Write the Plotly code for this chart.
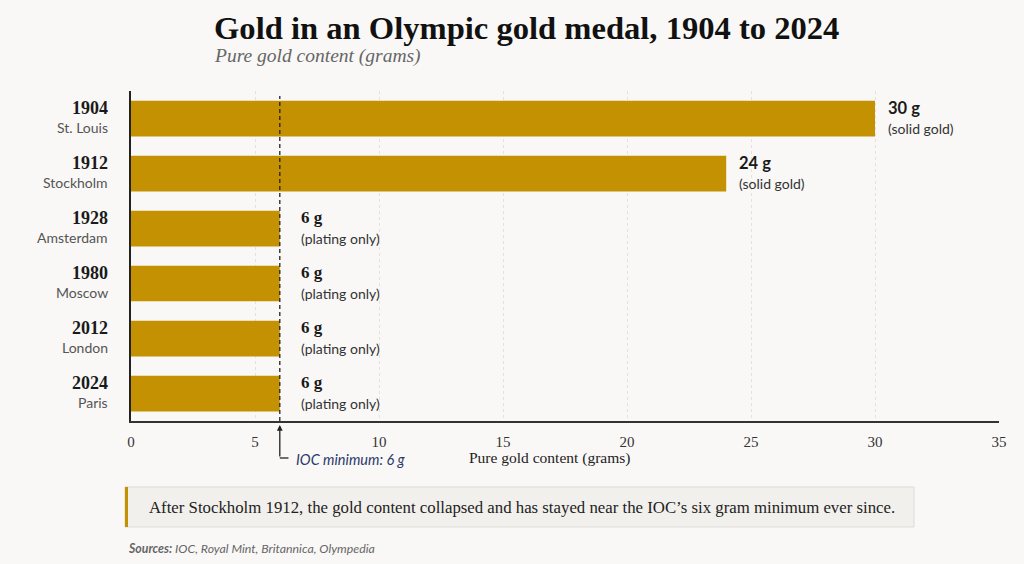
import plotly.graph_objects as go

years = ["1904", "1912", "1928", "1980", "2012", "2024"]
cities = ["St. Louis", "Stockholm", "Amsterdam", "Moscow", "London", "Paris"]
gold_grams = [30, 24, 6, 6, 6, 6]
value_labels = ["30 g", "24 g", "6 g", "6 g", "6 g", "6 g"]
notes = ["(solid gold)", "(solid gold)", "(plating only)", "(plating only)", "(plating only)", "(plating only)"]
x_ticks = [0, 5, 10, 15, 20, 25, 30, 35]
ioc_minimum = 6

W, H = 1024, 564
L, R, T, B = 131, 25, 91, 143
PW, PH = W - L - R, H - T - B

def px(x):
    return (x - L) / PW

def py(y):
    return (H - B - y) / PH

BG = "#f9f8f6"
GOLD = "#c49102"
SERIF = "Liberation Serif, DejaVu Serif, serif"
SANS = "Lato, Open Sans, sans-serif"

rows = list(range(len(years)))

fig = go.Figure()
fig.add_trace(go.Bar(
    y=rows, x=gold_grams, orientation="h",
    marker=dict(color=GOLD, line=dict(width=0)),
    width=0.65, hoverinfo="skip",
))

ann = []
# category labels
for r, yr, city in zip(rows, years, cities):
    ann.append(dict(x=px(110), y=r, xref="paper", yref="y", xanchor="right", yanchor="middle",
                    yshift=11, text=f"<b>{yr}</b>", showarrow=False,
                    font=dict(family=SERIF, size=18, color="#1a1a1a")))
    ann.append(dict(x=px(110), y=r, xref="paper", yref="y", xanchor="right", yanchor="middle",
                    yshift=-9, text=city, showarrow=False,
                    font=dict(family=SANS, size=14, color="#555")))

# value labels
for r, v, lab, note in zip(rows, gold_grams, value_labels, notes):
    solid = v > ioc_minimum
    shift = 11 if solid else 19
    ann.append(dict(x=v, y=r, xref="x", yref="y", xanchor="left", yanchor="middle",
                    xshift=shift, yshift=11, text=f"<b>{lab}</b>", showarrow=False,
                    font=dict(family=SANS if solid else SERIF, size=16.5 if solid else 17, color="#1a1a1a")))
    ann.append(dict(x=v, y=r, xref="x", yref="y", xanchor="left", yanchor="middle",
                    xshift=shift, yshift=-10, text=note, showarrow=False,
                    font=dict(family=SANS, size=14, color="#333")))

# title & subtitle
ann.append(dict(x=px(212), y=py(28), xref="paper", yref="paper", xanchor="left", yanchor="middle",
                text="<b>Gold in an Olympic gold medal, 1904 to 2024</b>", showarrow=False,
                font=dict(family=SERIF, size=32.6, color="#111")))
ann.append(dict(x=px(212), y=py(56), xref="paper", yref="paper", xanchor="left", yanchor="middle",
                text="<i>Pure gold content (grams)</i>", showarrow=False,
                font=dict(family=SERIF, size=19.5, color="#666")))

# axis title
ann.append(dict(x=px(549), y=py(458), xref="paper", yref="paper", xanchor="center", yanchor="middle",
                text="Pure gold content (grams)", showarrow=False,
                font=dict(family=SERIF, size=15.5, color="#222")))

# IOC arrow and label
ann.append(dict(x=ioc_minimum, y=py(425), xref="x", yref="paper", ax=0, ay=33, axref="pixel", ayref="pixel",
                text="", showarrow=True, arrowhead=2, arrowsize=0.9, arrowwidth=1.3, arrowcolor="#222"))
ann.append(dict(x=ioc_minimum, y=py(459), xref="x", yref="paper", xanchor="left", yanchor="middle",
                xshift=14, text="<i>IOC minimum: 6 g</i>", showarrow=False,
                font=dict(family=SANS, size=14.5, color="#2b3a6b")))

# insight box text
ann.append(dict(x=px(147), y=py(507), xref="paper", yref="paper", xanchor="left", yanchor="middle",
                text="After Stockholm 1912, the gold content collapsed and has stayed near the IOC\u2019s six gram minimum ever since.",
                showarrow=False, font=dict(family=SERIF, size=16.8, color="#222")))

# sources
ann.append(dict(x=px(126), y=py(548), xref="paper", yref="paper", xanchor="left", yanchor="middle",
                text="<b><i>Sources:</i></b><i> IOC, Royal Mint, Britannica, Olympedia</i>", showarrow=False,
                font=dict(family=SANS, size=12.3, color="#666")))

shapes = [
    # IOC dashed line
    dict(type="line", xref="x", yref="paper", x0=ioc_minimum, x1=ioc_minimum, y0=0, y1=py(96),
         line=dict(color="#222", width=1.3, dash="4px,3px"), layer="above"),
    # horizontal part of the IOC bracket
    dict(type="line", xref="x", yref="paper", x0=ioc_minimum, x1=ioc_minimum + 0.35,
         y0=py(458), y1=py(458), line=dict(color="#222", width=1.3)),
    # insight box
    dict(type="rect", xref="paper", yref="paper", x0=px(125), x1=px(914), y0=py(527), y1=py(487),
         fillcolor="#f2f0ec", line=dict(color="#dedbd5", width=1), layer="below"),
    dict(type="rect", xref="paper", yref="paper", x0=px(125), x1=px(128), y0=py(527), y1=py(487),
         fillcolor=GOLD, line=dict(width=0)),
]

fig.update_layout(
    width=W, height=H,
    margin=dict(l=L, r=R, t=T, b=B, pad=0),
    paper_bgcolor=BG, plot_bgcolor=BG,
    showlegend=False,
    annotations=ann, shapes=shapes,
    xaxis=dict(range=[0, 35], tickvals=x_ticks, ticktext=[str(t) for t in x_ticks],
               showgrid=True, gridcolor="#e4e2dd", griddash="dot", gridwidth=1,
               showline=True, linecolor="#333", linewidth=1.5, ticks="", zeroline=False,
               tickfont=dict(family=SERIF, size=15, color="#333"), ticklabelstandoff=6,
               fixedrange=True),
    yaxis=dict(range=[len(years) - 0.5, -0.5],
               showticklabels=False, showgrid=False, zeroline=False,
               showline=True, linecolor="#222", linewidth=1.5, ticks="", fixedrange=True),
)

fig.write_html("out.html", config={"displayModeBar": False})
